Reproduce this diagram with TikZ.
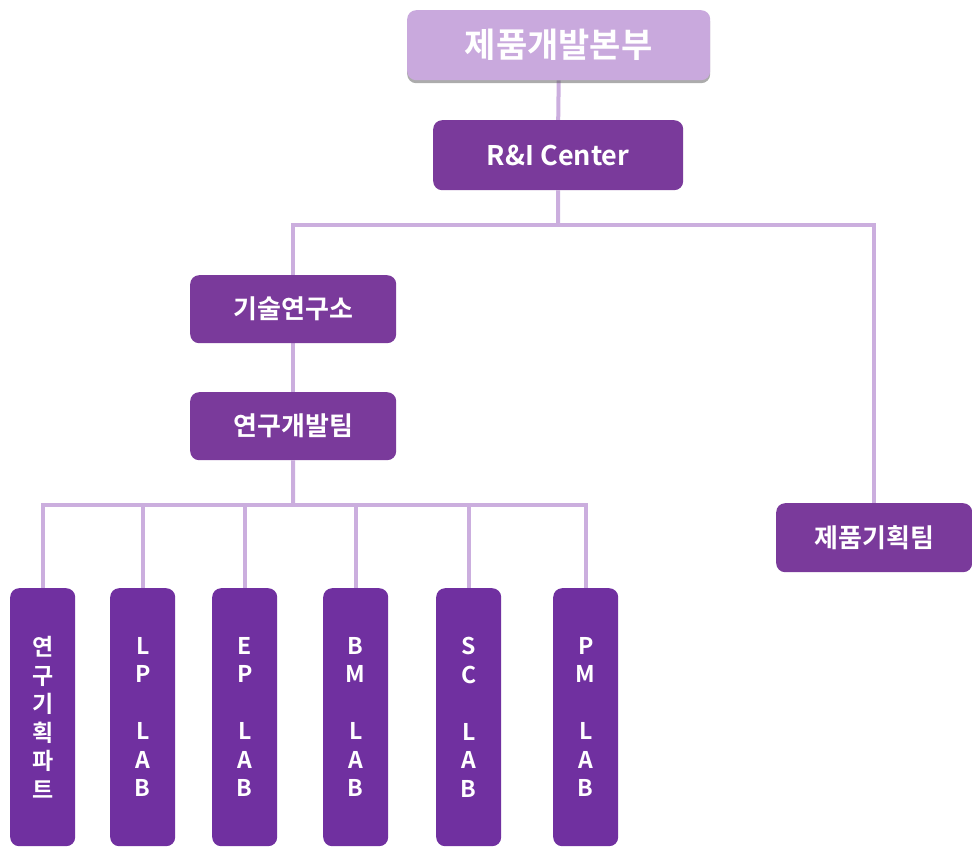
\documentclass[tikz,border=0pt]{standalone}
\usepackage{fontspec}
\newfontfamily\kr{Noto Sans CJK KR}[BoldFont={Noto Sans CJK KR Bold}]
\usetikzlibrary{backgrounds,shadows}
\definecolor{dark}{HTML}{7A3A9B}
\definecolor{darkv}{HTML}{7030A0}
\definecolor{light}{HTML}{C9A9DD}
\definecolor{linec}{HTML}{CBAEDE}
\tikzset{
  box/.style={fill=dark, rounded corners=9pt, text=white, font=\kr\bfseries\fontsize{26}{30}\selectfont, inner sep=0pt, anchor=north west},
  vbox/.style={fill=darkv, rounded corners=9pt, text=white, font=\kr\bfseries\fontsize{23}{28.5}\selectfont, inner sep=0pt, anchor=north west, minimum width=65pt, minimum height=258pt, align=center},
  conn/.style={draw=linec, line width=4pt},
}
\begin{document}
\begin{tikzpicture}[x=1pt,y=-1pt]
\useasboundingbox (0,0) rectangle (972,848);
\node[fill=light, rounded corners=9pt, anchor=north west, minimum width=303pt, minimum height=70pt, inner sep=0pt,
  drop shadow={shadow xshift=0pt, shadow yshift=-3pt, opacity=.5, fill=black!65},
  text=white, font=\kr\bfseries\fontsize{34}{40}\selectfont] (top) at (407,10) {제품개발본부};
\node[box, minimum width=250pt, minimum height=70pt, font=\kr\bfseries\fontsize{27}{30}\selectfont] (ri) at (433,120) {R\&I Center};
\node[box, minimum width=206pt, minimum height=68pt] (tech) at (190,275) {기술연구소};
\node[box, minimum width=206pt, minimum height=68pt] (rnd) at (190,392) {연구개발팀};
\node[box, minimum width=196pt, minimum height=69pt] (plan) at (776,503) {제품기획팀};
\node[vbox] (v1) at (10,588) {연\\구\\기\\획\\파\\트};
\node[vbox] (v2) at (110,588) {L\\P\\\strut\\L\\A\\B};
\node[vbox] (v3) at (212,588) {E\\P\\\strut\\L\\A\\B};
\node[vbox] (v4) at (323,588) {B\\M\\\strut\\L\\A\\B};
\node[vbox] (v5) at (436,588) {S\\C\\\strut\\L\\A\\B};
\node[vbox] (v6) at (553,588) {P\\M\\\strut\\L\\A\\B};
\coordinate (b1) at (558,225);
\coordinate (b2) at (293,505);
\begin{scope}[on background layer]
\draw[conn] (top.south) -- (ri.north);
\draw[conn] (ri.south) -- (b1);
\draw[conn] (tech.north) |- (b1) -| (plan.north);
\draw[conn] (tech.south) -- (rnd.north);
\draw[conn] (rnd.south) -- (b2);
\foreach \v in {v1,v2,v3,v4,v5,v6} \draw[conn] (b2) -| (\v.north);
\end{scope}
\end{tikzpicture}
\end{document}
